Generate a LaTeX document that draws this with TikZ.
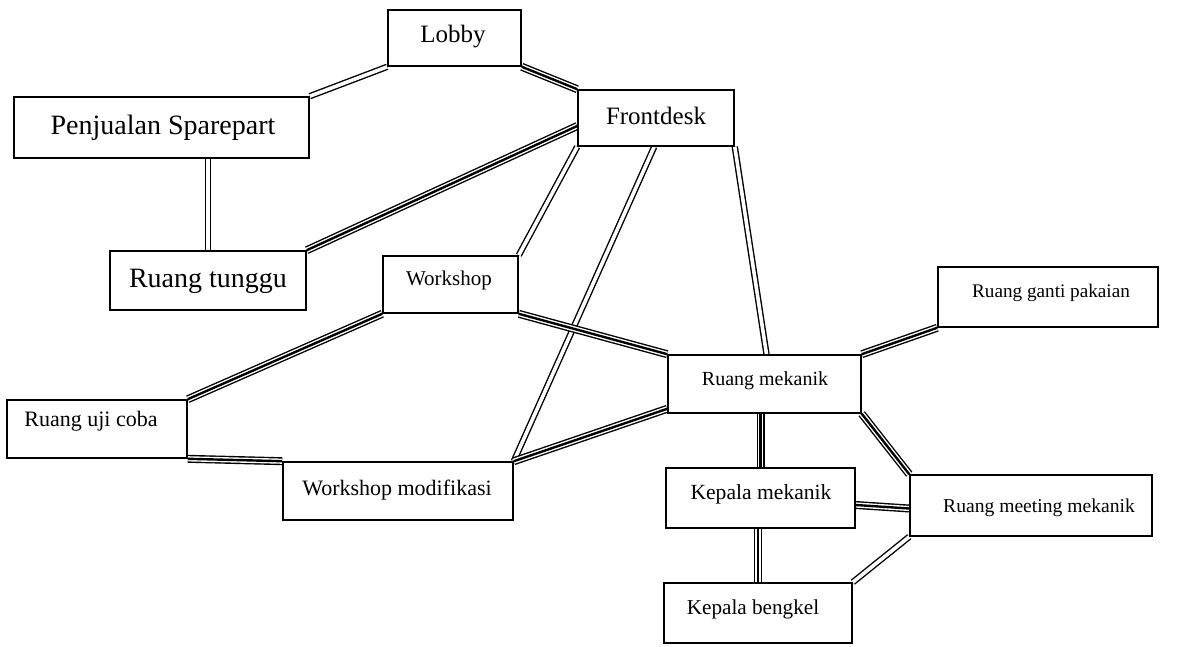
\documentclass[tikz,border=0pt]{standalone}
\usepackage{fontspec}
\setmainfont{Liberation Serif}
\usetikzlibrary{fit,calc}
\pgfdeclarelayer{bg}
\pgfsetlayers{bg,main}
\begin{document}
\begin{tikzpicture}[x=0.5pt,y=-0.5pt,
  box/.style={draw, line width=0.8pt, inner sep=0pt, rectangle},
  txt/.style={font=\fontsize{#1}{#1}\selectfont, inner sep=0pt},
  dbl/.style={draw, double, double distance=1.8pt, line width=0.7pt},
  trp/.style={preaction={draw, line width=4pt}, preaction={draw, white, line width=2.6pt}, draw, line width=1.2pt}]
\useasboundingbox (0,0) rectangle (1178,647);

% boxes
\node[box, fit={(388,10) (521,66)}] (lobby) {};
\node[box, fit={(578,90) (734,146)}] (front) {};
\node[box, fit={(14,97) (309,158)}] (penj) {};
\node[box, fit={(110,251) (306,310)}] (tunggu) {};
\node[box, fit={(383,256) (518,313)}] (ws) {};
\node[box, fit={(7,400) (187,458)}] (uji) {};
\node[box, fit={(283,462) (513,520)}] (wsmod) {};
\node[box, fit={(668,355) (861,413)}] (mek) {};
\node[box, fit={(938,267) (1158,327)}] (ganti) {};
\node[box, fit={(666,468) (855,528)}] (kmek) {};
\node[box, fit={(910,475) (1152,536)}] (meet) {};
\node[box, fit={(664,583) (852,643)}] (kbeng) {};

% texts
\node[txt=12.5] (lobbyT) at (453,37) {Lobby};
\node[txt=12.5] (frontT) at (656,116) {Frontdesk};
\node[txt=14] (penjT) at (163,128) {Penjualan Sparepart};
\node[txt=14] (tungguT) at (208,281) {Ruang tunggu};
\node[txt=10.5] (wsT) at (449,280) {Workshop};
\node[txt=11] (ujiT) at (91,421) {Ruang uji coba};
\node[txt=11] (wsmodT) at (397,490) {Workshop modifikasi};
\node[txt=10] (mekT) at (765,381) {Ruang mekanik};
\node[txt=9.6] (gantiT) at (1051,293) {Ruang ganti pakaian};
\node[txt=10.8] (kmekT) at (761,494) {Kepala mekanik};
\node[txt=9.8] (meetT) at (1039,508) {Ruang meeting mekanik};
\node[txt=10.6] (kbengT) at (753,609) {Kepala bengkel};

% connectors
\begin{pgfonlayer}{bg}
\draw[dbl] (lobby.south west) -- (penj.north east);
\draw[trp] (lobby.south east) -- (front.north west);
\draw[dbl] (penj.south -| tunggu.north) -- (tunggu.north);
\draw[trp] ($(front.west)+(0,8)$) -- (tunggu.north east);
\draw[dbl] (front.south west) -- (ws.north east);
\draw[dbl] ($(front.south west)+(77,0)$) -- (wsmod.north east);
\draw[dbl] (front.south east) -- ($(mek.north)+(2,0)$);
\draw[trp] (ws.south west) -- (uji.north east);
\draw[trp] (ws.south east) -- (mek.north west);
\draw[trp] (uji.south east) -- (wsmod.north west);
\draw[trp] (wsmod.north east) -- ($(mek.south west)+(0,-5)$);
\draw[trp] (mek.north east) -- (ganti.south west);
\draw[trp] (mek.south -| kmek.north) -- (kmek.north);
\draw[trp] (mek.south east) -- (meet.north west);
\draw[trp] ($(kmek.east)+(0,7)$) -- ($(meet.west)+(0,3)$);
\draw[trp] (kmek.south -| kbeng.north) -- (kbeng.north);
\draw[dbl] (meet.south west) -- (kbeng.north east);
\end{pgfonlayer}
\end{tikzpicture}
\end{document}
